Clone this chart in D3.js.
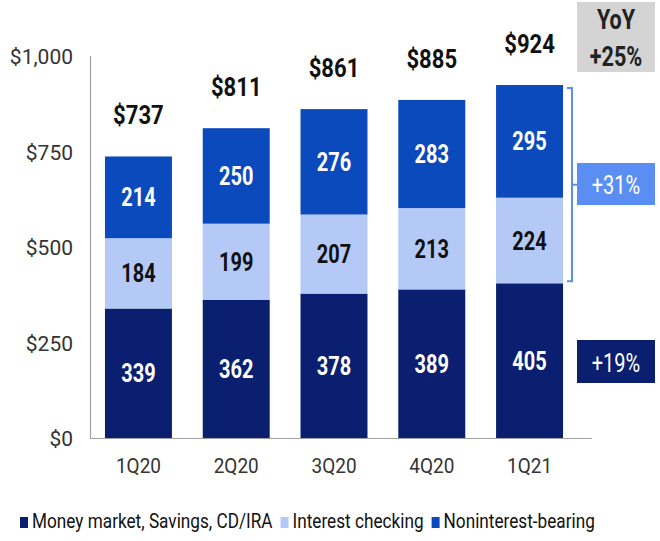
<!DOCTYPE html>
<html>
<head>
<meta charset="utf-8">
<script src="https://cdn.jsdelivr.net/npm/d3@7"></script>
<style>
  body { margin: 0; background: #fff; }
  svg text { font-family: Roboto, "Liberation Sans", sans-serif; }
</style>
</head>
<body>
<div id="chart"></div>
<script>
const quarters = ["1Q20", "2Q20", "3Q20", "4Q20", "1Q21"];
const moneyMarket = [339, 362, 378, 389, 405];
const interestChecking = [184, 199, 207, 213, 224];
const nonInterest = [214, 250, 276, 283, 295];
const totals = [737, 811, 861, 885, 924];
const yTicks = [0, 250, 500, 750, 1000];
const seriesNames = ["Money market, Savings, CD/IRA", "Interest checking", "Noninterest-bearing"];
const yoyLabels = ["YoY", "+25%"];
const growthLabels = ["+31%", "+19%"];

const width = 660, height = 541;
const colors = ["#0a1f6f", "#b5c9f7", "#0b4abd"];
const textColors = ["#fff", "#111", "#fff"];
const accent = "#5b8ef2";

const svg = d3.select("#chart").append("svg")
    .attr("width", width)
    .attr("height", height);

// the original uses a condensed face, so squeeze text horizontally
function place(sel, x, y, k) {
    return sel.attr("transform", (d, i) => {
        const xx = typeof x === "function" ? x(d, i) : x;
        const yy = typeof y === "function" ? y(d, i) : y;
        return `translate(${xx},${yy}) scale(${k},1)`;
    });
}

const xScale = d3.scaleBand().domain(quarters).range([90, 578]).paddingInner(0.315).paddingOuter(0.153);
const yScale = d3.scaleLinear().domain([0, 1000]).range([438, 56]);

const rows = quarters.map((q, i) => ({ q: q, mm: moneyMarket[i], ic: interestChecking[i], ni: nonInterest[i], total: totals[i] }));
const stack = d3.stack().keys(["mm", "ic", "ni"])(rows);

// y axis
const yAxis = d3.axisLeft(yScale).tickValues(yTicks).tickSize(0).tickPadding(17)
    .tickFormat(d => "$" + d3.format(",")(d));
const gy = svg.append("g").attr("transform", "translate(90,0)").call(yAxis);
gy.select(".domain").remove();
gy.selectAll("text")
    .attr("font-family", "Roboto")
    .attr("font-size", 21).attr("fill", "#333")
    .attr("dy", "0.36em").attr("x", null)
    .attr("transform", "translate(-17,0)");

svg.append("line")
    .attr("x1", 90.5).attr("x2", 90.5)
    .attr("y1", yScale(1000)).attr("y2", yScale(0))
    .attr("stroke", "#a0a0a0").attr("stroke-width", 1.2);

// bars
stack.forEach((layer, k) => {
    const g = svg.append("g");
    g.selectAll("rect").data(layer).enter().append("rect")
        .attr("x", d => xScale(d.data.q))
        .attr("width", xScale.bandwidth())
        .attr("y", d => yScale(d[1]))
        .attr("height", d => yScale(d[0]) - yScale(d[1]))
        .attr("fill", colors[k]);
    const t = g.selectAll("text").data(layer).enter().append("text")
        .attr("text-anchor", "middle")
        .attr("font-size", 25)
        .attr("font-weight", "bold")
        .attr("fill", textColors[k])
        .text(d => d[1] - d[0]);
    place(t, d => xScale(d.data.q) + xScale.bandwidth() / 2,
        d => (yScale(d[0]) + yScale(d[1])) / 2 + 9, 0.8);
});

// x axis line
svg.append("line")
    .attr("x1", 90).attr("x2", 592)
    .attr("y1", yScale(0) + 0.5).attr("y2", yScale(0) + 0.5)
    .attr("stroke", "#a0a0a0").attr("stroke-width", 1.2);

const xAxis = d3.axisBottom(xScale).tickSize(0).tickPadding(20);
const gx = svg.append("g").attr("transform", "translate(0," + yScale(0) + ")").call(xAxis);
gx.select(".domain").remove();
gx.selectAll("text")
    .attr("font-family", "Roboto")
    .attr("font-size", 20).attr("fill", "#333")
    .attr("y", null).attr("dy", null)
    .attr("transform", "translate(0,35) scale(0.95,1)");

// totals
const tot = svg.selectAll(".total").data(rows).enter().append("text")
    .attr("class", "total")
    .attr("text-anchor", "middle")
    .attr("font-size", 26)
    .attr("font-weight", "bold")
    .attr("fill", "#111")
    .text(d => "$" + d.total);
place(tot, d => xScale(d.q) + xScale.bandwidth() / 2, d => yScale(d.total) - 32, 0.85);

// YoY box
svg.append("rect").attr("x", 577).attr("y", 2).attr("width", 78).attr("height", 70).attr("fill", "#d4d4d4");
place(svg.append("text").attr("text-anchor", "middle")
    .attr("font-size", 27).attr("font-weight", "bold").attr("fill", "#222").text(yoyLabels[0]), 616, 29, 0.8);
place(svg.append("text").attr("text-anchor", "middle")
    .attr("font-size", 27).attr("font-weight", "bold").attr("fill", "#222").text(yoyLabels[1]), 616, 66, 0.8);

// bracket over last bar's upper two segments
const last = rows[rows.length - 1];
const bTop = yScale(last.mm + last.ic + last.ni) + 3;
const bBot = yScale(last.mm) - 2;
const bx = 572;
svg.append("path")
    .attr("d", `M${bx - 5},${bTop} H${bx} V${bBot} H${bx - 5} M${bx},${(bTop + bBot) / 2} H${bx + 5}`)
    .attr("fill", "none").attr("stroke", accent).attr("stroke-width", 2);

svg.append("rect").attr("x", 577).attr("y", 163).attr("width", 78).attr("height", 42).attr("fill", accent);
place(svg.append("text").attr("text-anchor", "middle")
    .attr("font-size", 25).attr("fill", "#fff").text(growthLabels[0]), 616, 194, 0.8);

svg.append("rect").attr("x", 577).attr("y", 340).attr("width", 78).attr("height", 43).attr("fill", colors[0]);
place(svg.append("text").attr("text-anchor", "middle")
    .attr("font-size", 25).attr("fill", "#fff").text(growthLabels[1]), 616, 372, 0.8);

// legend
const legend = svg.append("g").attr("transform", "translate(0,528)");
let lx = 20;
seriesNames.forEach((name, i) => {
    legend.append("rect").attr("x", lx).attr("y", -11).attr("width", 8).attr("height", 11).attr("fill", colors[i]);
    const t = legend.append("text")
        .attr("font-size", 20).attr("fill", "#111").text(name);
    place(t, lx + 12, 0, 0.86);
    lx += 12 + t.node().getComputedTextLength() * 0.86 + 8;
});
</script>
</body>
</html>
